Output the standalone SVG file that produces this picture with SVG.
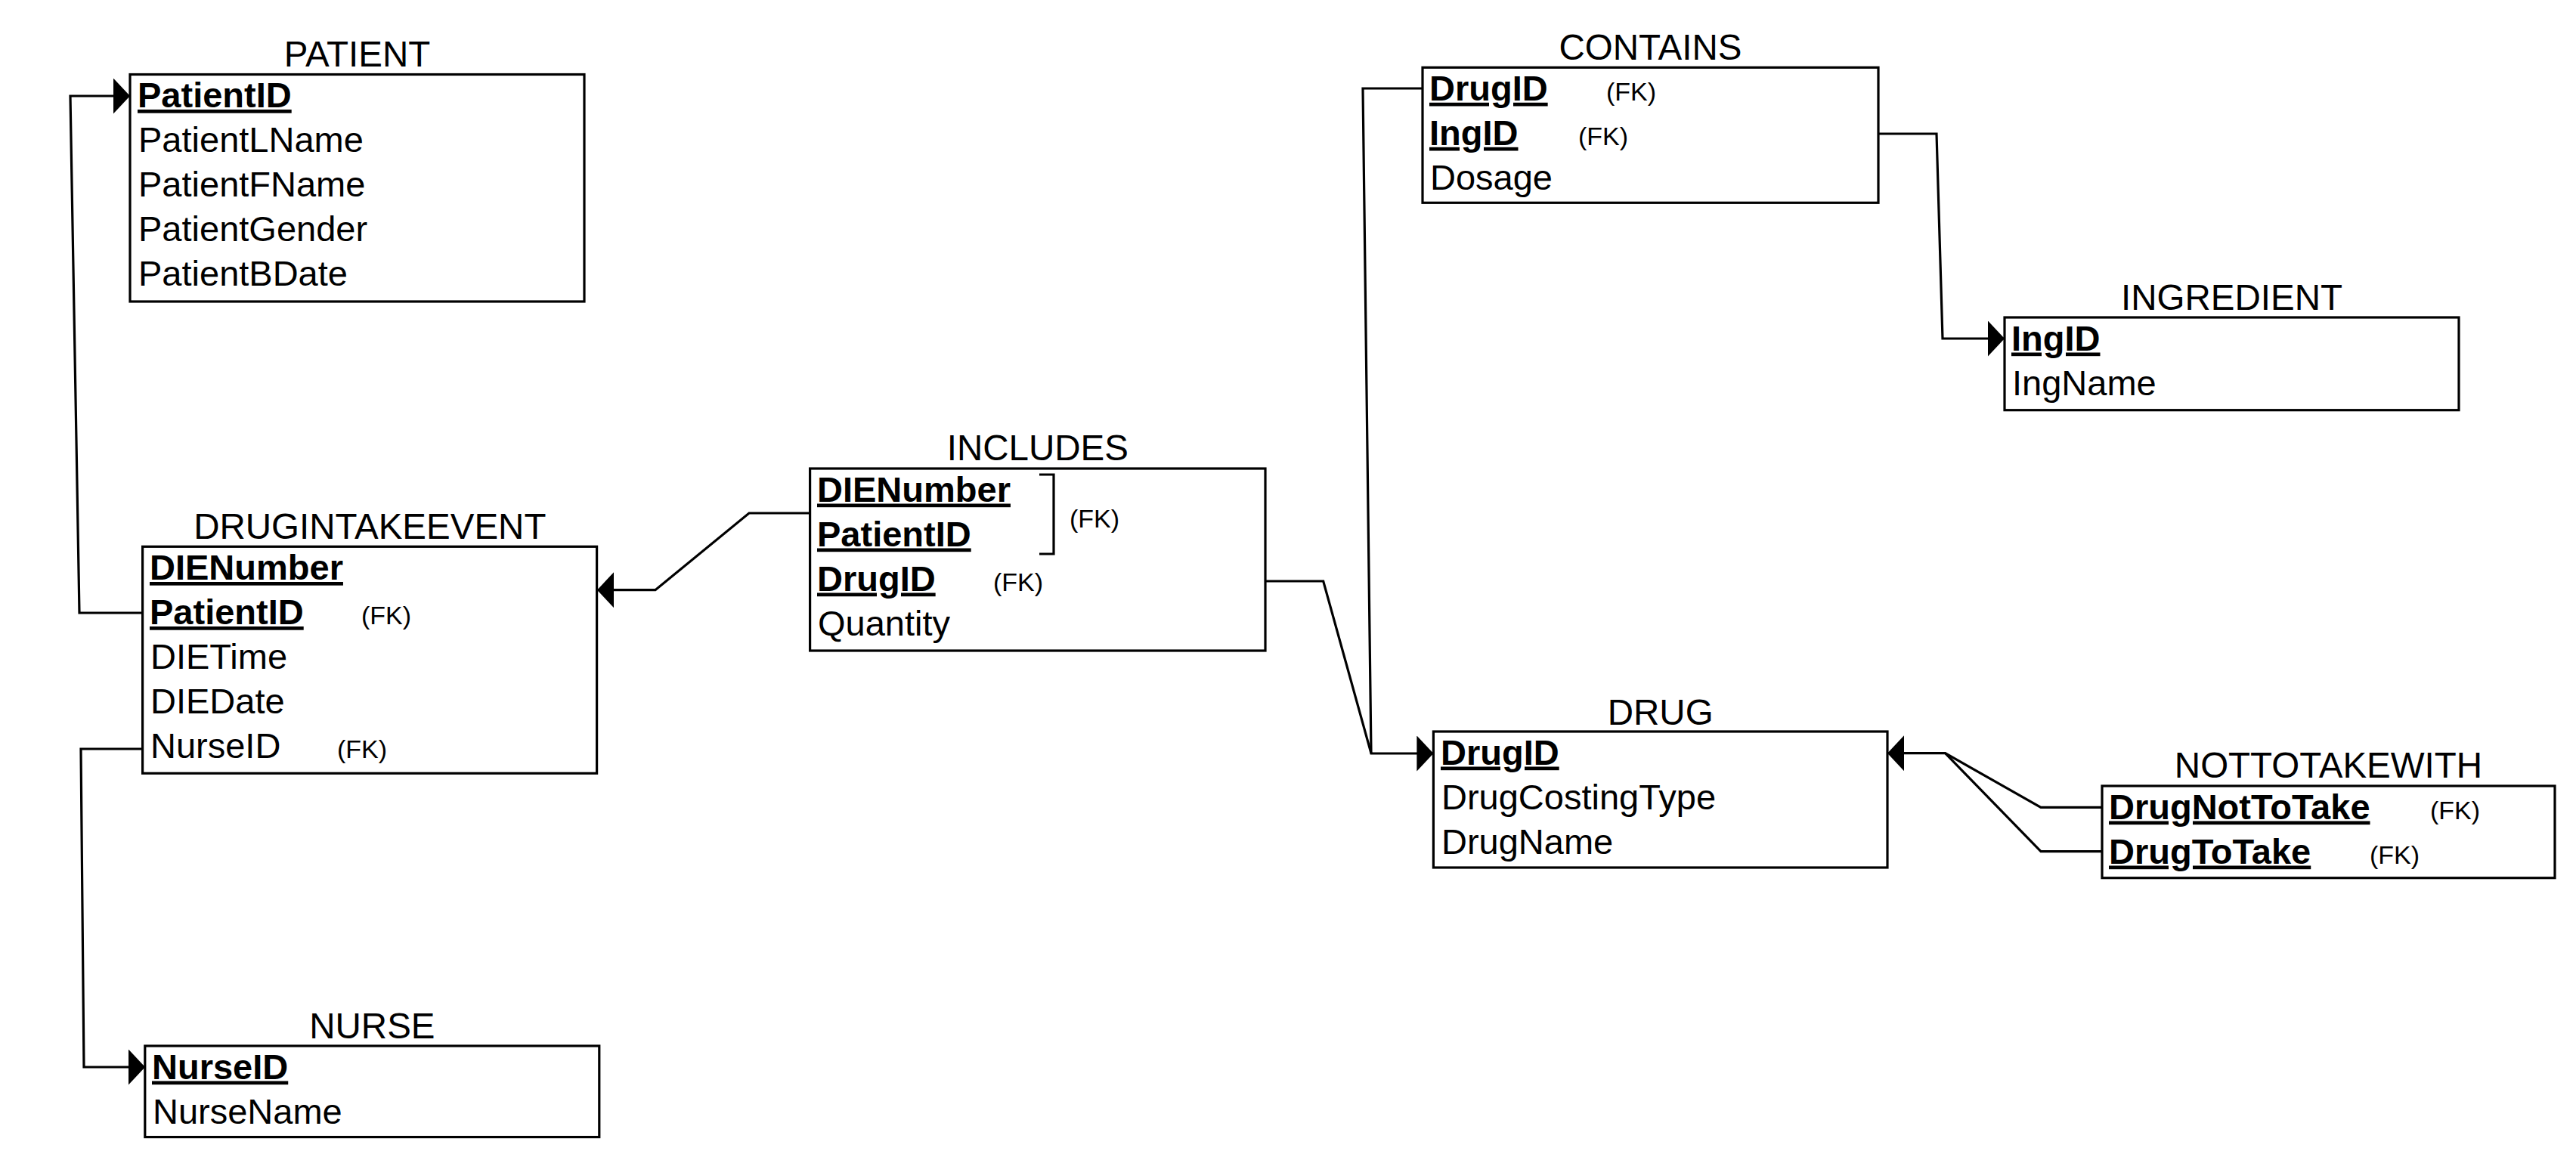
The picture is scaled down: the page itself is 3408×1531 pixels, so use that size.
<svg xmlns="http://www.w3.org/2000/svg" width="3408" height="1531" viewBox="0 0 3408 1531">
<style>
text{font-family:"Liberation Sans",Arial,sans-serif;fill:#000}
.a{font-size:47px}
.pk{font-weight:bold;text-decoration:underline}
.fk{font-size:34px}
.title{font-size:47.5px;text-anchor:middle}
.box{fill:#fff;stroke:#000;stroke-width:3.2}
.conn{fill:none;stroke:#000;stroke-width:3.2;stroke-linejoin:miter}
</style>
<defs>
<marker id="arr" markerUnits="userSpaceOnUse" viewBox="0 0 22 47" refX="22" refY="23.5" markerWidth="22" markerHeight="47" orient="auto">
<path d="M0,0 L22,23.5 L0,47 Z" fill="#000"/>
</marker>
</defs>
<rect width="3408" height="1531" fill="#fff"/>

<g id="connectors">
<path class="conn" d="M188.6,811 L105,811 L93,127 L172,127" marker-end="url(#arr)"/>
<path class="conn" d="M188.6,991 L107,991 L111,1412 L192,1412" marker-end="url(#arr)"/>
<path class="conn" d="M1071.6,679 L991,679 L867,780.7 L790,780.7" marker-end="url(#arr)"/>
<path class="conn" d="M1674,769 L1750.7,769 L1814,997 L1896.4,997" marker-end="url(#arr)"/>
<path class="conn" d="M1882,117 L1803,117 L1814,997"/>
<path class="conn" d="M2485,177 L2562,177 L2570,448 L2652,448" marker-end="url(#arr)"/>
<path class="conn" d="M2781,1068.3 L2700,1068.3 L2573.5,996.7 L2497,996.7" marker-end="url(#arr)"/>
<path class="conn" d="M2781,1126.7 L2700,1126.7 L2573.5,996.7"/>
</g>

<g id="PATIENT">
<text class="title" x="472.5" y="88">PATIENT</text>
<rect class="box" x="172" y="98.5" width="601" height="300.5"/>
<text class="a pk" x="182" y="142">PatientID</text>
<text class="a" x="183" y="201">PatientLName</text>
<text class="a" x="183" y="260">PatientFName</text>
<text class="a" x="183" y="319">PatientGender</text>
<text class="a" x="183" y="378">PatientBDate</text>
</g>

<g id="DRUGINTAKEEVENT">
<text class="title" x="489.3" y="713">DRUGINTAKEEVENT</text>
<rect class="box" x="188.6" y="723.3" width="601" height="300"/>
<text class="a pk" x="198" y="767">DIENumber</text>
<text class="a pk" x="198" y="826">PatientID</text>
<text class="fk" x="478" y="826">(FK)</text>
<text class="a" x="199" y="885">DIETime</text>
<text class="a" x="199" y="944">DIEDate</text>
<text class="a" x="199" y="1003">NurseID</text>
<text class="fk" x="446" y="1003">(FK)</text>
</g>

<g id="NURSE">
<text class="title" x="492.4" y="1374">NURSE</text>
<rect class="box" x="191.8" y="1384" width="601" height="120.6"/>
<text class="a pk" x="201" y="1427.5">NurseID</text>
<text class="a" x="202" y="1486.5">NurseName</text>
</g>

<g id="INCLUDES">
<text class="title" x="1372.8" y="609">INCLUDES</text>
<rect class="box" x="1071.6" y="620" width="602.4" height="241"/>
<text class="a pk" x="1081" y="663.5">DIENumber</text>
<text class="a pk" x="1081" y="722.5">PatientID</text>
<text class="a pk" x="1081" y="781.5">DrugID</text>
<text class="fk" x="1314" y="781.5">(FK)</text>
<text class="a" x="1082" y="840.5">Quantity</text>
<path class="conn" d="M1375,628 H1394 V733 H1375"/>
<text class="fk" x="1415" y="698">(FK)</text>
</g>

<g id="CONTAINS">
<text class="title" x="2183.5" y="79">CONTAINS</text>
<rect class="box" x="1882" y="89.3" width="603" height="179"/>
<text class="a pk" x="1891" y="132.8">DrugID</text>
<text class="fk" x="2125" y="132.8">(FK)</text>
<text class="a pk" x="1891" y="191.8">IngID</text>
<text class="fk" x="2088" y="191.8">(FK)</text>
<text class="a" x="1892" y="250.8">Dosage</text>
</g>

<g id="INGREDIENT">
<text class="title" x="2952.5" y="410">INGREDIENT</text>
<rect class="box" x="2652" y="420" width="601" height="122.7"/>
<text class="a pk" x="2661" y="463.5">IngID</text>
<text class="a" x="2662" y="522.5">IngName</text>
</g>

<g id="DRUG">
<text class="title" x="2196.7" y="959">DRUG</text>
<rect class="box" x="1896.4" y="968" width="600.6" height="180"/>
<text class="a pk" x="1906" y="1011.5">DrugID</text>
<text class="a" x="1907" y="1070.5">DrugCostingType</text>
<text class="a" x="1907" y="1129.5">DrugName</text>
</g>

<g id="NOTTOTAKEWITH">
<text class="title" x="3080.5" y="1029">NOTTOTAKEWITH</text>
<rect class="box" x="2781" y="1040" width="599" height="121.7"/>
<text class="a pk" x="2790" y="1083.5">DrugNotToTake</text>
<text class="fk" x="3215" y="1083.5">(FK)</text>
<text class="a pk" x="2790" y="1142.5">DrugToTake</text>
<text class="fk" x="3135" y="1142.5">(FK)</text>
</g>
</svg>
